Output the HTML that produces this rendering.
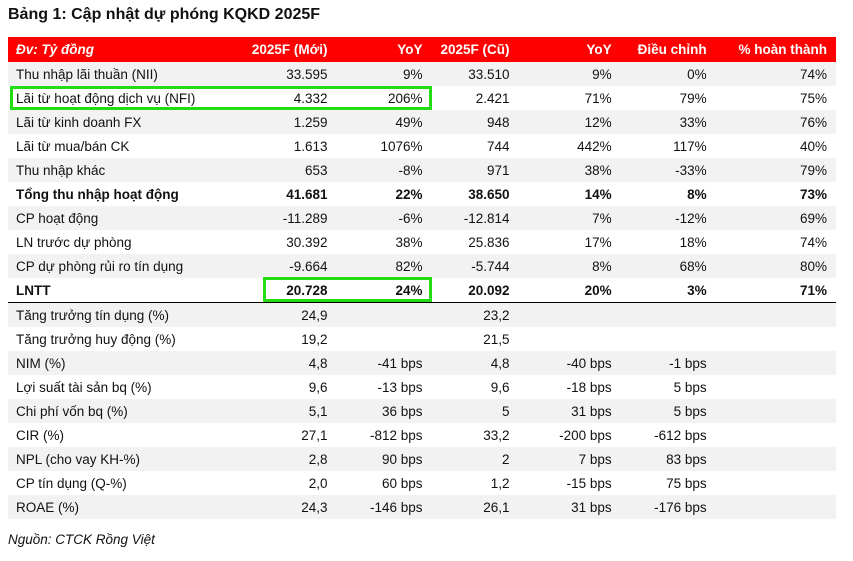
<!DOCTYPE html>
<html><head><meta charset="utf-8"><style>
body{margin:0;width:853px;height:561px;background:#fff;font-family:"Liberation Sans","DejaVu Sans",sans-serif;position:relative;overflow:hidden;color:#111}
.title{position:absolute;left:8px;top:6px;font-size:16px;font-weight:bold}
table{position:absolute;left:8px;top:37px;width:828px;border-collapse:collapse;font-size:13.5px}
td{height:24px;padding:0;white-space:nowrap;text-align:right}
td:nth-child(1){padding-left:8px;text-align:left}
td:nth-child(2){padding-right:5px}
td:nth-child(3){padding-right:5px}
td:nth-child(4){padding-right:6px}
td:nth-child(5){padding-right:8px}
td:nth-child(6){padding-right:9px}
td:nth-child(7){padding-right:9px}
tr.h td{background:#ff0000;color:#fff;font-weight:bold;height:25px}
tr.h td:first-child{font-style:italic}
tr.g td{background:#f2f2f2}
tr.b td{font-weight:bold}
tr.l td{border-bottom:1.5px solid #000}
.box{position:absolute;border:3px solid #22dd11;box-sizing:border-box}
.src{position:absolute;left:8px;top:532px;font-size:13.5px;font-style:italic}
</style></head><body>
<div class="title">Bảng 1: Cập nhật dự phóng KQKD 2025F</div>
<table>
<colgroup><col style="width:200px"><col style="width:121px"><col style="width:94px"><col style="width:87px"><col style="width:103px"><col style="width:95px"><col style="width:119px"></colgroup>
<tr class="h"><td>Đv: Tỷ đồng</td><td>2025F (Mới)</td><td>YoY</td><td>2025F (Cũ)</td><td>YoY</td><td>Điều chỉnh</td><td>% hoàn thành</td></tr>
<tr class="g"><td>Thu nhập lãi thuần (NII)</td><td>33.595</td><td>9%</td><td>33.510</td><td>9%</td><td>0%</td><td>74%</td></tr>
<tr><td>Lãi từ hoạt động dịch vụ (NFI)</td><td>4.332</td><td>206%</td><td>2.421</td><td>71%</td><td>79%</td><td>75%</td></tr>
<tr class="g"><td>Lãi từ kinh doanh FX</td><td>1.259</td><td>49%</td><td>948</td><td>12%</td><td>33%</td><td>76%</td></tr>
<tr><td>Lãi từ mua/bán CK</td><td>1.613</td><td>1076%</td><td>744</td><td>442%</td><td>117%</td><td>40%</td></tr>
<tr class="g"><td>Thu nhập khác</td><td>653</td><td>-8%</td><td>971</td><td>38%</td><td>-33%</td><td>79%</td></tr>
<tr class="b"><td>Tổng thu nhập hoạt động</td><td>41.681</td><td>22%</td><td>38.650</td><td>14%</td><td>8%</td><td>73%</td></tr>
<tr class="g"><td>CP hoạt động</td><td>-11.289</td><td>-6%</td><td>-12.814</td><td>7%</td><td>-12%</td><td>69%</td></tr>
<tr><td>LN trước dự phòng</td><td>30.392</td><td>38%</td><td>25.836</td><td>17%</td><td>18%</td><td>74%</td></tr>
<tr class="g"><td>CP dự phòng rủi ro tín dụng</td><td>-9.664</td><td>82%</td><td>-5.744</td><td>8%</td><td>68%</td><td>80%</td></tr>
<tr class="b l"><td>LNTT</td><td>20.728</td><td>24%</td><td>20.092</td><td>20%</td><td>3%</td><td>71%</td></tr>
<tr class="g"><td>Tăng trưởng tín dụng (%)</td><td>24,9</td><td></td><td>23,2</td><td></td><td></td><td></td></tr>
<tr><td>Tăng trưởng huy động (%)</td><td>19,2</td><td></td><td>21,5</td><td></td><td></td><td></td></tr>
<tr class="g"><td>NIM (%)</td><td>4,8</td><td>-41 bps</td><td>4,8</td><td>-40 bps</td><td>-1 bps</td><td></td></tr>
<tr><td>Lợi suất tài sản bq (%)</td><td>9,6</td><td>-13 bps</td><td>9,6</td><td>-18 bps</td><td>5 bps</td><td></td></tr>
<tr class="g"><td>Chi phí vốn bq (%)</td><td>5,1</td><td>36 bps</td><td>5</td><td>31 bps</td><td>5 bps</td><td></td></tr>
<tr><td>CIR (%)</td><td>27,1</td><td>-812 bps</td><td>33,2</td><td>-200 bps</td><td>-612 bps</td><td></td></tr>
<tr class="g"><td>NPL (cho vay KH-%)</td><td>2,8</td><td>90 bps</td><td>2</td><td>7 bps</td><td>83 bps</td><td></td></tr>
<tr><td>CP tín dụng (Q-%)</td><td>2,0</td><td>60 bps</td><td>1,2</td><td>-15 bps</td><td>75 bps</td><td></td></tr>
<tr class="g"><td>ROAE (%)</td><td>24,3</td><td>-146 bps</td><td>26,1</td><td>31 bps</td><td>-176 bps</td><td></td></tr>
</table>
<div class="box" style="left:10px;top:86px;width:422px;height:24px"></div>
<div class="box" style="left:263px;top:277px;width:169px;height:25px"></div>
<div class="src">Nguồn: CTCK Rồng Việt</div>
</body></html>
